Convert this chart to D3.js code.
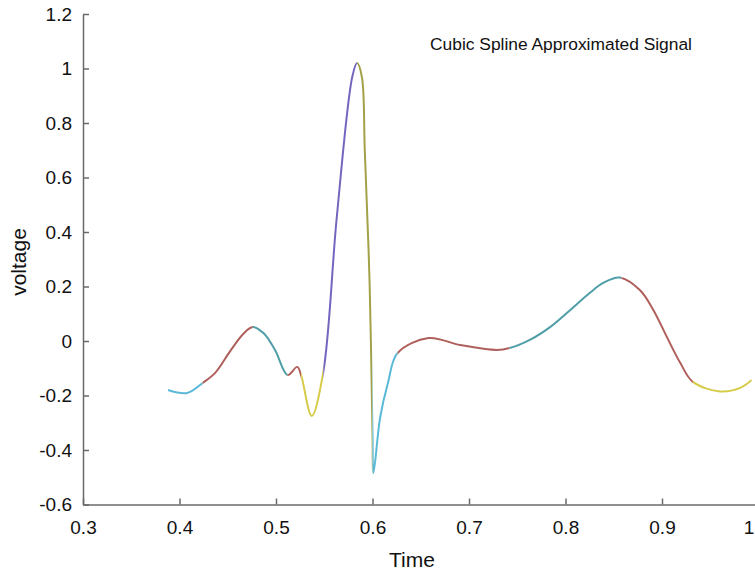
<!DOCTYPE html>
<meta charset="utf-8">
<html lang="en">
<head>
    <title>Cubic Spline Approximated Signal</title>
    <script src="https://d3js.org/d3.v7.min.js"></script>
    <style>
        body { margin: 0; background: #fff; }
        text { font-family: Arial, "Liberation Sans", sans-serif; fill: #111; }
        .axis path, .axis line { stroke: #6a6a6a; stroke-width: 1.5px; }
        .axis text { font-size: 19px; }
    </style>
</head>
<body>
<div id="my_dataviz"></div>
<script>

    // signal samples
    var time = [0.388, 0.408, 0.424, 0.437, 0.452, 0.466, 0.476, 0.487, 0.499, 0.512,
                0.522, 0.526, 0.537, 0.549, 0.563, 0.579, 0.584, 0.589, 0.592, 0.597,
                0.600, 0.601, 0.608, 0.616, 0.626, 0.658, 0.691, 0.729, 0.742, 0.763,
                0.784, 0.805, 0.825, 0.839, 0.856, 0.877, 0.891, 0.905, 0.919, 0.932,
                0.960, 0.981, 0.993];
    var voltage = [-0.180, -0.191, -0.154, -0.117, -0.040, 0.026, 0.051, 0.029, -0.033, -0.125,
                   -0.095, -0.125, -0.275, -0.114, 0.455, 0.969, 1.020, 0.969, 0.701, 0.213,
                   -0.338, -0.484, -0.279, -0.154, -0.044, 0.011, -0.015, -0.033, -0.026, 0.004,
                   0.051, 0.114, 0.176, 0.213, 0.233, 0.187, 0.114, 0.015, -0.081, -0.150,
                   -0.185, -0.172, -0.143];

    // pieces of the spline, each drawn in its own colour
    var segBreaks = [0.388, 0.424, 0.476, 0.512, 0.526, 0.549, 0.584, 0.600, 0.626, 0.742, 0.858, 0.932, 0.993];
    var segColors = ["#5bb9d8", "#b0605c", "#4f9ea8", "#b0605c", "#d6cc4a", "#7466bf",
                     "#a3a147", "#5bb9d8", "#b0605c", "#4f9ea8", "#b0605c", "#d6cc4a"];

    var xTicks = [0.3, 0.4, 0.5, 0.6, 0.7, 0.8, 0.9, 1];
    var yTicks = [-0.6, -0.4, -0.2, 0, 0.2, 0.4, 0.6, 0.8, 1, 1.2];

    var data = time.map(function (t, i) { return {t: t, v: voltage[i]}; });

    var svgWidth = 755, svgHeight = 572;

    var svg = d3.select("#my_dataviz")
        .append("svg")
        .attr("width", svgWidth)
        .attr("height", svgHeight);

    var x = d3.scaleLinear()
        .domain([0.3, 1])
        .range([83, 758.5]);

    var y = d3.scaleLinear()
        .domain([-0.6, 1.2])
        .range([504.5, 14]);

    var plainNum = function (d) { return String(+d.toFixed(1)); };

    // X axis (ticks point into the plot)
    var gx = svg.append("g")
        .attr("class", "axis")
        .attr("transform", "translate(0,504.5)")
        .call(d3.axisBottom(x).tickValues(xTicks).tickSizeInner(-6).tickSizeOuter(0).tickPadding(16)
            .tickFormat(plainNum));

    // last label sits at the window edge, nudge it in
    gx.selectAll(".tick text").filter(function (d) { return d === 1; })
        .attr("dx", -10);

    // Y axis
    svg.append("g")
        .attr("class", "axis")
        .attr("transform", "translate(83,0)")
        .call(d3.axisLeft(y).tickValues(yTicks).tickSizeInner(-6).tickSizeOuter(0).tickPadding(11)
            .tickFormat(plainNum));

    // clip areas, one per coloured piece
    var defs = svg.append("defs");
    segColors.forEach(function (c, i) {
        defs.append("clipPath")
            .attr("id", "seg" + i)
            .append("rect")
            .attr("x", x(segBreaks[i]))
            .attr("y", 0)
            .attr("width", x(segBreaks[i + 1]) - x(segBreaks[i]))
            .attr("height", svgHeight);
    });

    var line = d3.line()
        .x(function (d) { return x(d.t); })
        .y(function (d) { return y(d.v); })
        .curve(d3.curveCatmullRom.alpha(0.5));

    segColors.forEach(function (c, i) {
        svg.append("path")
            .datum(data)
            .attr("clip-path", "url(#seg" + i + ")")
            .attr("fill", "none")
            .attr("stroke", c)
            .attr("stroke-width", 2)
            .attr("d", line);
    });

    // title and axis labels
    svg.append("text")
        .attr("x", 561)
        .attr("y", 50)
        .style("text-anchor", "middle")
        .style("font-size", "17.4px")
        .text("Cubic Spline Approximated Signal");

    svg.append("text")
        .attr("x", 412)
        .attr("y", 567)
        .style("text-anchor", "middle")
        .style("font-size", "21px")
        .text("Time");

    svg.append("text")
        .attr("transform", "rotate(-90)")
        .attr("x", -262)
        .attr("y", 26)
        .style("text-anchor", "middle")
        .style("font-size", "21px")
        .text("voltage");

</script>
</body>
</html>
